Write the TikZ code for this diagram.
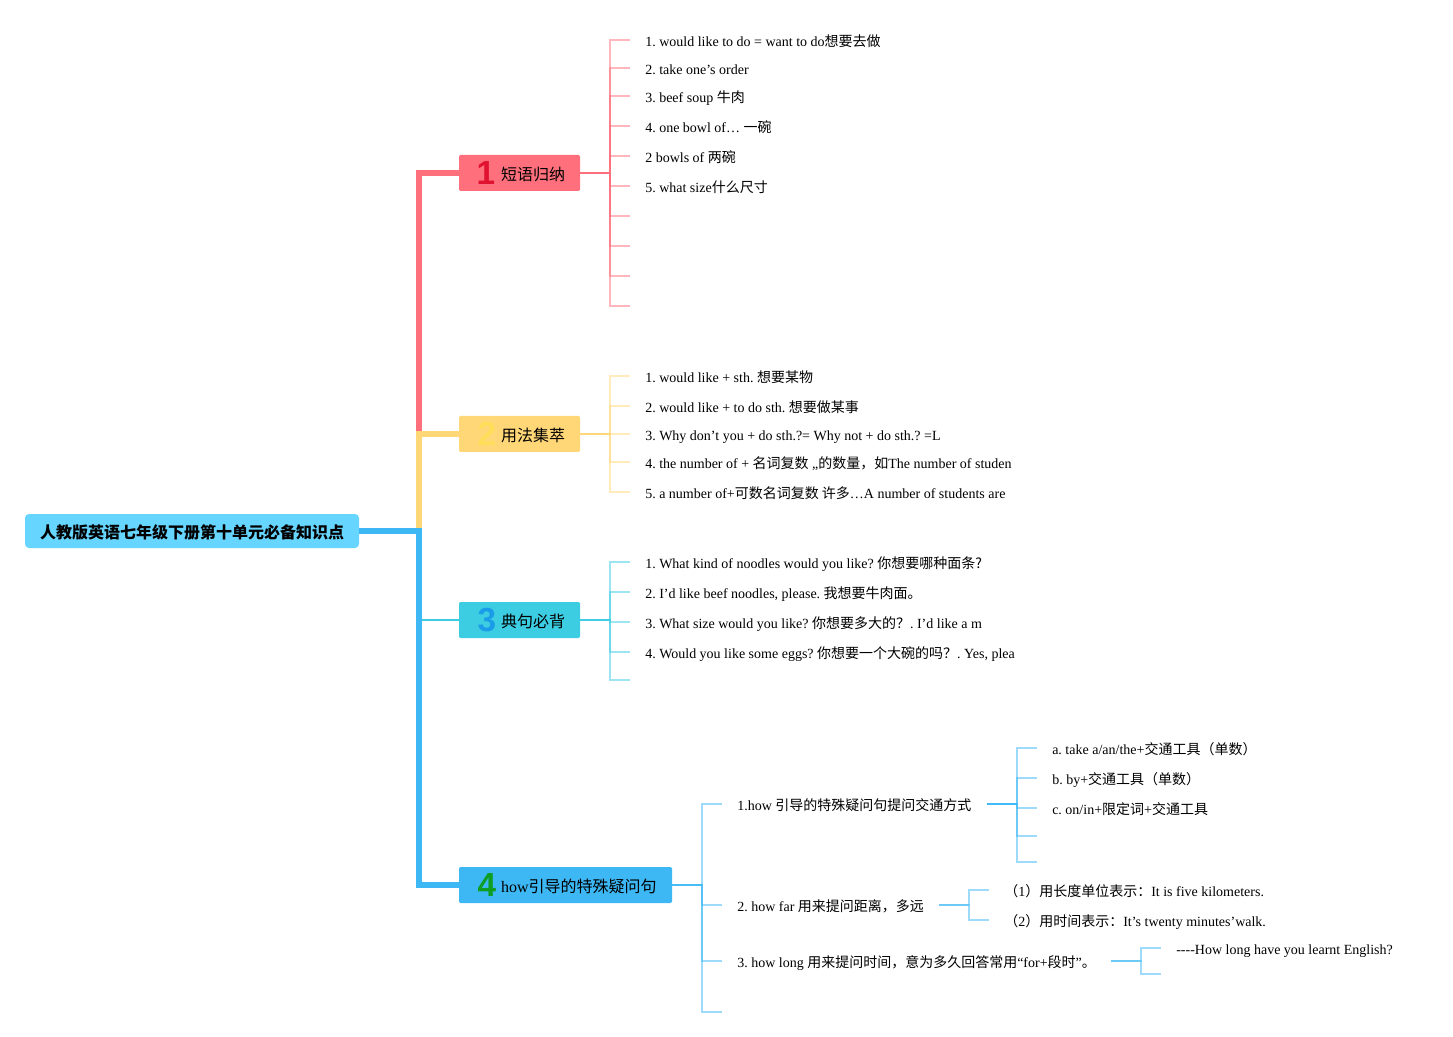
\documentclass[tikz,border=0pt]{standalone}
\usepackage{fontspec}
\usepackage{xcolor}
\usepackage{tikz}
\setmainfont{Liberation Serif}
\newfontfamily\cjkfont{Noto Sans CJK SC}
\newfontfamily\numfont{Liberation Sans}
\newcommand{\zh}[1]{{\cjkfont #1}}
\definecolor{rootblue}{HTML}{66D5FF}
\definecolor{trunkpink}{HTML}{FF6F7C}
\definecolor{trunkyellow}{HTML}{FFD777}
\definecolor{trunkcyan}{HTML}{3CCDE3}
\definecolor{trunkblue}{HTML}{3DB8F5}
\definecolor{numred}{HTML}{E0122F}
\definecolor{numyellow}{HTML}{FFDF5A}
\definecolor{numblue}{HTML}{1B9CE8}
\definecolor{numgreen}{HTML}{0E9E24}

\begin{document}
\frenchspacing
\begin{tikzpicture}[
		x=0.75pt, y=-0.75pt,
		root/.style={draw=none, fill=rootblue, rounded corners=3pt, minimum width=250.5pt,
				minimum height=25.5pt, inner sep=0pt, text height=12pt, text depth=0.1pt,
				font=\bfseries\fontsize{12}{14}\selectfont},
		topic/.style={rounded corners=1pt, text width=#1, inner xsep=0pt, inner ysep=0pt,
				minimum height=27pt, text height=12pt, text depth=0.2pt, align=left,
				font=\fontsize{12}{14}\selectfont},
		num/.style={inner sep=0pt, font=\numfont\bfseries\fontsize{25}{25}\selectfont},
		leaf/.style={anchor=west, inner xsep=11.25pt, inner ysep=0pt, text height=11pt, text depth=1.2pt,
				font=\fontsize{10.5}{12}\selectfont},
		link/.style={line width=1.5pt, opacity=0.5},
		trunk/.style={line width=4.2pt}
		]
		\useasboundingbox (0,0) rectangle (1453,1037);
		% root and the four topics
		\node[root] (root) at (192,531) {\zh{\bfseries 人教版英语七年级下册第十单元必备知识点}};
		\node[topic=90.75pt, fill=trunkpink] (tp1) at (519.5,173) {\hspace*{31.5pt}\zh{短语归纳}};
		\node[topic=90.75pt, fill=trunkyellow] (tp2) at (519.5,434) {\hspace*{31.5pt}\zh{用法集萃}};
		\node[topic=90.75pt, fill=trunkcyan] (tp3) at (519.5,620) {\hspace*{31.5pt}\zh{典句必背}};
		\node[topic=159.75pt, fill=trunkblue] (tp4) at (565.5,885) {\hspace*{31.5pt}how\zh{引导的特殊疑问句}};
		\node[num, text=numred] (n1) at (486,173) {1};
		\node[num, text=numyellow] (n2) at (487,434) {2};
		\node[num, text=numblue] (n3) at (487,620) {3};
		\node[num, text=numgreen] (n4) at (487,885) {4};
		% bend points of the trunk and of the brackets
		\coordinate (tk) at (419,531);
		\coordinate (sp1) at (610,173);
		\coordinate (sp2) at (610,434);
		\coordinate (sp3) at (610,620);
		\coordinate (sp4) at (702,885);
		\coordinate (sp41) at (1017,804);
		\coordinate (sp42) at (969,905);
		\coordinate (sp43) at (1141,961);
		% trunk: later ones lie over earlier ones
		\draw[trunk, trunkpink] (root.east) -- (tk) |- (tp1.west);
		\draw[trunk, trunkyellow] (root.east) -- (tk) |- (tp2.west);
		\draw[line width=1.5pt, trunkcyan] (tk) |- (tp3.west);
		\draw[trunk, trunkblue] (root.east) -- (tk) |- (tp4.west);
		% topic 1
		\foreach \y/\txt [count=\i] in {
				40/{1. would like to do = want to do\zh{想要去做}},
				68/{2. take one’s order},
				96/{3. beef soup \zh{牛肉}},
				126/{4. one bowl of… \zh{一碗}},
				156/{2 bowls of \zh{两碗}},
				186/{5. what size\zh{什么尺寸}},
				216/{},246/{},276/{},306/{}}{
			\node[leaf] (a\i) at (630,\y) {\txt};
			\draw[link, trunkpink] (tp1.east) -- (sp1) |- (a\i.west);
		}
		% topic 2
		\foreach \y/\txt [count=\i] in {
				376/{1. would like + sth. \zh{想要某物}},
				406/{2. would like + to do sth. \zh{想要做某事}},
				434/{3. Why don’t you + do sth.?= Why not + do sth.? =L},
				462/{4. the number of + \zh{名词复数} „\zh{的数量，如}The number of studen},
				492/{5. a number of+\zh{可数名词复数 许多}…A number of students are}}{
			\node[leaf] (b\i) at (630,\y) {\txt};
			\draw[link, trunkyellow] (tp2.east) -- (sp2) |- (b\i.west);
		}
		% topic 3
		\foreach \y/\txt [count=\i] in {
				562/{1. What kind of noodles would you like? \zh{你想要哪种面条?}},
				592/{2. I’d like beef noodles, please. \zh{我想要牛肉面。}},
				622/{3. What size would you like? \zh{你想要多大的？}. I’d like a m},
				652/{4. Would you like some eggs? \zh{你想要一个大碗的吗？}. Yes, plea},
				680/{}}{
			\node[leaf] (c\i) at (630,\y) {\txt};
			\draw[link, trunkcyan] (tp3.east) -- (sp3) |- (c\i.west);
		}
		% topic 4
		\foreach \y/\txt [count=\i] in {
				804/{1.how \zh{引导的特殊疑问句提问交通方式}},
				905/{2. how far \zh{用来提问距离，多远}},
				961/{3. how long \zh{用来提问时间，意为多久回答常用}“for+\zh{段时}”\zh{。}},
				1012/{}}{
			\node[leaf] (d\i) at (722,\y) {\txt};
			\draw[link, trunkblue] (tp4.east) -- (sp4) |- (d\i.west);
		}
		\foreach \y/\txt [count=\i] in {
				748/{a. take a/an/the+\zh{交通工具（单数）}},
				778/{b. by+\zh{交通工具（单数）}},
				808/{c. on/in+\zh{限定词}+\zh{交通工具}},
				836/{},862/{}}{
			\node[leaf] (e\i) at (1037,\y) {\txt};
			\draw[link, trunkblue] (d1.east) -- (sp41) |- (e\i.west);
		}
		\foreach \y/\txt [count=\i] in {
				890/{\zh{（}1\zh{）用长度单位表示：}It is five kilometers.},
				920/{\zh{（}2\zh{）用时间表示：}It’s twenty minutes’walk.}}{
			\node[leaf] (f\i) at (989,\y) {\txt};
			\draw[link, trunkblue] (d2.east) -- (sp42) |- (f\i.west);
		}
		\foreach \y/\txt [count=\i] in {
				948/{-{}-{}-{}-How long have you learnt English?},
				974/{}}{
			\node[leaf] (g\i) at (1161,\y) {\txt};
			\draw[link, trunkblue] (d3.east) -- (sp43) |- (g\i.west);
		}
	\end{tikzpicture}
\end{document}
